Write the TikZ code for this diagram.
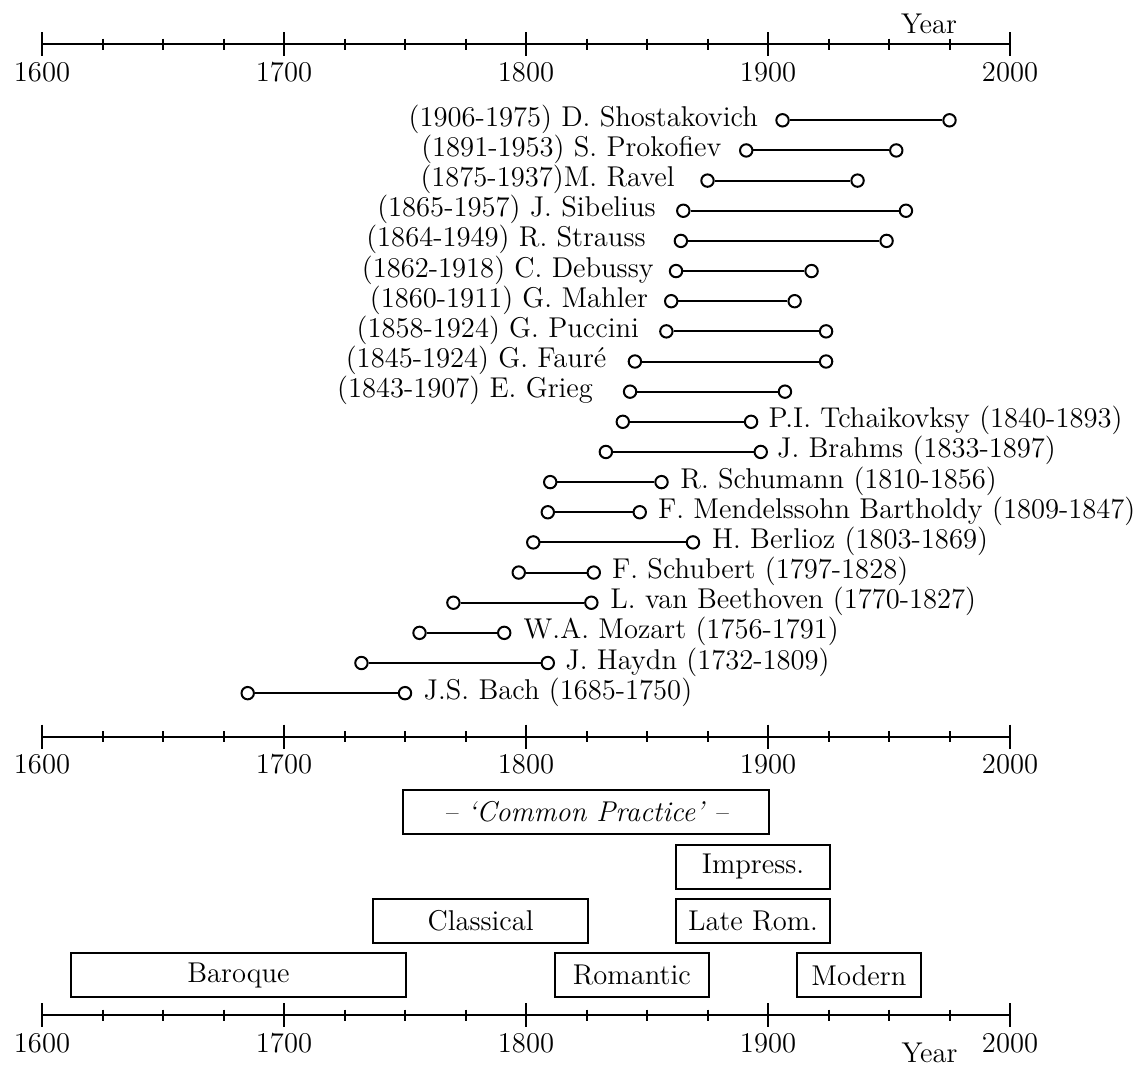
\documentclass[tikz,border=0pt]{standalone}
\begin{document}
\begin{tikzpicture}[x=0.5pt,y=-0.5pt,
  every node/.style={font=\fontsize{14.3}{17}\selectfont, inner sep=0pt},
  axisline/.style={line width=1pt},
  life/.style={circle, draw, line width=1pt, fill=white, minimum size=6.2pt, inner sep=0pt},
  lifeline/.style={line width=1pt},
  period/.style={draw, line width=1pt, rectangle, minimum height=22pt, inner sep=0pt, align=center},
]
\useasboundingbox (0,0) rectangle (1143,1066);

% ---- three time axes ----
\foreach \ay [count=\k] in {44,736.7,1015} {
  \draw[axisline] (42,\ay) coordinate (axL\k) -- (1010,\ay) coordinate (axR\k);
  \foreach \t in {0,...,16}
    \draw[axisline] ({42+60.5*\t},\ay-5.5) -- ({42+60.5*\t},\ay+5.5);
  \foreach \m/\lab in {0/1600,1/1700,2/1800,3/1900,4/2000} {
    \draw[axisline] ({42+242*\m},\ay-12) -- ({42+242*\m},\ay+12);
    \node[anchor=base] (lab\k-\lab) at ({42+242*\m},\ay+37) {\lab};
  }
}
\node[anchor=base] (yeartop) at (929,33.3) {Year};
\node[anchor=base] (yearbot) at (929.5,1062.7) {Year};

% ---- life spans ----
\foreach \i/\b/\d/\anc/\px/\txt in {
  0/1906/1975/base east/758.3/{(1906-1975) D. Shostakovich},
  1/1891/1953/base east/721.7/{(1891-1953) S. Prokofiev},
  2/1875/1937/base east/675/{(1875-1937)M. Ravel},
  3/1865/1957/base east/656/{(1865-1957) J. Sibelius},
  4/1864/1949/base east/646/{(1864-1949) R. Strauss},
  5/1862/1918/base east/654/{(1862-1918) C. Debussy},
  6/1860/1911/base east/648.3/{(1860-1911) G. Mahler},
  7/1858/1924/base east/639.3/{(1858-1924) G. Puccini},
  8/1845/1924/base east/606.7/{(1845-1924) G. Faur\'e},
  9/1843/1907/base east/593.3/{(1843-1907) E. Grieg},
  10/1840/1893/base west/768.3/{P.I. Tchaikovksy (1840-1893)},
  11/1833/1897/base west/776.7/{J. Brahms (1833-1897)},
  12/1810/1856/base west/680/{R. Schumann (1810-1856)},
  13/1809/1847/base west/657.7/{F. Mendelssohn Bartholdy (1809-1847)},
  14/1803/1869/base west/711.7/{H. Berlioz (1803-1869)},
  15/1797/1828/base west/611.7/{F. Schubert (1797-1828)},
  16/1770/1827/base west/610/{L. van Beethoven (1770-1827)},
  17/1756/1791/base west/523.3/{W.A. Mozart (1756-1791)},
  18/1732/1809/base west/565/{J. Haydn (1732-1809)},
  19/1685/1750/base west/423.3/{J.S. Bach (1685-1750)}} {
  \node[life] (b\i) at ({42+(\b-1600)*2.42},{120.3+30.15*\i}) {};
  \node[life] (d\i) at ({42+(\d-1600)*2.42},{120.3+30.15*\i}) {};
  \draw[lifeline] (b\i) -- (d\i);
  \node[anchor=\anc] (n\i) at (\px,{126.3+30.15*\i}) {\txt};
}

% ---- periods ----
\node[period, minimum width=183pt] (common) at (586.3,812) {\textit{-- `Common Practice' --}};
\node[period, minimum width=77pt] (impress) at (753,866.5) {Impress.};
\node[period, minimum width=77pt] (laterom) at (753,921) {Late Rom.};
\node[period, minimum width=107.65pt] (classical) at (480.65,921) {Classical};
\node[period, minimum width=167.5pt] (baroque) at (238.5,975.3) {Baroque};
\node[period, minimum width=77.25pt] (romantic) at (631.75,975.3) {Romantic};
\node[period, minimum width=61.85pt] (modern) at (858.85,975.3) {Modern};
\end{tikzpicture}
\end{document}
